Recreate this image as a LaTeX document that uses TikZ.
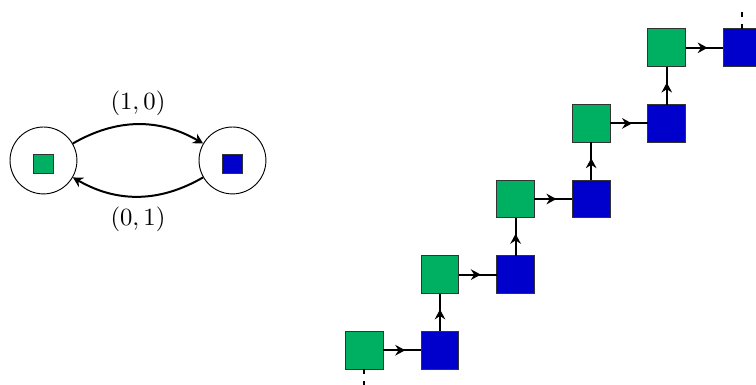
\documentclass[tikz,border=0pt]{standalone}
\usepackage{xcolor}
\usepackage{tikz}
\usetikzlibrary{positioning,arrows.meta,decorations.markings}
\definecolor{cellgreen}{RGB}{0,176,98}
\definecolor{cellblue}{RGB}{0,0,204}
\tikzset{
	weight/.style = {
		scale=1.86
	}
}

\begin{document}
\begin{tikzpicture}[
		node distance = 1 cm,
		>={Stealth[length=7.5pt, width=8pt, inset=2.5pt]},
		state/.style = {circle, draw, line width=0.7pt, minimum size=1.77cm},
		tiny/.style = {rectangle, draw=black!80, line width=0.7pt, minimum size=0.51cm, inner sep=0},
		cell/.style = {rectangle, draw=black!80, line width=0.75pt, minimum size=1cm, inner sep=0, outer sep=0},
		link/.style = {line width=1.5pt, postaction={decorate},
			decoration={markings, mark=at position 0.58 with {\arrow{>}}}}
	]
	\useasboundingbox (0,0) rectangle (20,10.185);

	% two-state graph
	\node[state] (A) at (1.15,5.94) {};
	\node[state] (B) at (6.15,5.94) {};
	\node[tiny, fill=cellgreen] (a) at ([yshift=-0.1cm]A.center) {};
	\node[tiny, fill=cellblue] (b) at ([yshift=-0.1cm]B.center) {};

	\draw[->, line width=1.5pt] (A) to[bend left=30] node[weight, above=-1pt] (w1) {$(1,0)$} (B);
	\draw[->, line width=1.5pt] (B) to[bend left=30] node[weight, below=0pt] (w2) {$(0,1)$} (A);

	% staircase
	\node[cell, fill=cellgreen] (g1) at (9.64,0.92) {};
	\node[cell, fill=cellblue, right = of g1] (b1) {};
	\node[cell, fill=cellgreen, above = of b1] (g2) {};
	\node[cell, fill=cellblue, right = of g2] (b2) {};
	\node[cell, fill=cellgreen, above = of b2] (g3) {};
	\node[cell, fill=cellblue, right = of g3] (b3) {};
	\node[cell, fill=cellgreen, above = of b3] (g4) {};
	\node[cell, fill=cellblue, right = of g4] (b4) {};
	\node[cell, fill=cellgreen, above = of b4] (g5) {};
	\node[cell, fill=cellblue, right = of g5] (b5) {};
	\coordinate[below = 0.5cm of g1.south] (g0);
	\coordinate[above = 0.5cm of b5.north] (b6);

	\draw[line width=1.5pt, dash pattern=on 4pt off 5pt] (g1) -- (g0);
	\draw[link] (g1) -- (b1);
	\draw[link] (b1) -- (g2);
	\draw[link] (g2) -- (b2);
	\draw[link] (b2) -- (g3);
	\draw[link] (g3) -- (b3);
	\draw[link] (b3) -- (g4);
	\draw[link] (g4) -- (b4);
	\draw[link] (b4) -- (g5);
	\draw[link] (g5) -- (b5);
	\draw[line width=1.5pt, dash pattern=on 4pt off 5pt] (b5) -- (b6);

\end{tikzpicture}
\end{document}
